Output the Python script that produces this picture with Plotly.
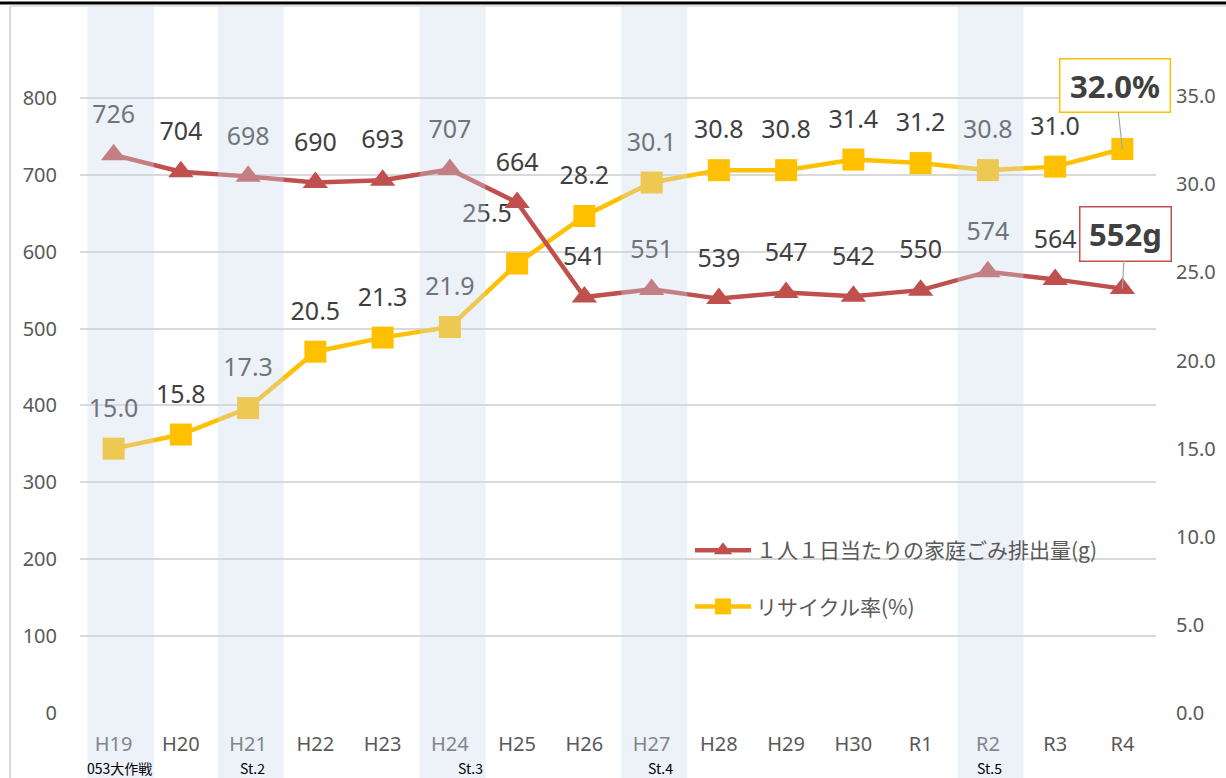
import plotly.graph_objects as go

# ---------------- data ----------------
years = ["H19", "H20", "H21", "H22", "H23", "H24", "H25", "H26",
         "H27", "H28", "H29", "H30", "R1", "R2", "R3", "R4"]
waste_g = [726, 704, 698, 690, 693, 707, 664, 541,
           551, 539, 547, 542, 550, 574, 564, 552]
recycle_pct = [15.0, 15.8, 17.3, 20.5, 21.3, 21.9, 25.5, 28.2,
               30.1, 30.8, 30.8, 31.4, 31.2, 30.8, 31.0, 32.0]
left_ticks = [0, 100, 200, 300, 400, 500, 600, 700, 800]
right_ticks = [0, 5, 10, 15, 20, 25, 30, 35]
band_years = ["H19", "H21", "H24", "H27", "R2"]
stage_labels = ["053大作戦", "St.2", "St.3", "St.4", "St.5"]
waste_name = "１人１日当たりの家庭ごみ排出量(g)"
recycle_name = "リサイクル率(%)"

# ---------------- layout constants ----------------
W, H = 1226, 778
ML, MR, MT, MB = 80, 70, 8, 65
PW, PH = W - ML - MR, H - MT - MB
L_MAX, R_MAX = 917, 40
RED, YEL = "#C0504D", "#FFC000"
TXT = "#404040"
AX = "#595959"
GRID = "#D9D9D9"

x = list(range(len(years)))
px_x = PW / len(years)
lab_dy = 38
g_off = lab_dy * L_MAX / PH

# label tweaks (pixels) for individual points
pct_dx = [0] * len(years)
pct_dy = [0] * len(years)
pct_dx[6], pct_dy[6] = -30, -10

fig = go.Figure()

# recycle rate (primary y, right side) drawn first so waste line is on top
fig.add_trace(go.Scatter(
    x=x, y=recycle_pct, name=recycle_name, yaxis="y",
    mode="lines+markers", line=dict(color=YEL, width=4.5),
    marker=dict(symbol="square", size=22, color=YEL),
    legendgroup="b", legendrank=2, cliponaxis=False))
fig.add_trace(go.Scatter(
    x=x, y=waste_g, name=waste_name, yaxis="y2",
    mode="lines+markers", line=dict(color=RED, width=4.5),
    marker=dict(symbol="triangle-up", size=22, color=RED),
    legendgroup="a", legendrank=1, cliponaxis=False))

# data labels as text traces (so the bands fade them)
fig.add_trace(go.Scatter(
    x=[x[i] + pct_dx[i] / px_x for i in range(len(x) - 1)],
    y=[recycle_pct[i] + (lab_dy - pct_dy[i]) * R_MAX / PH for i in range(len(x) - 1)],
    text=[f"{v:.1f}" for v in recycle_pct[:-1]], mode="text", yaxis="y",
    textfont=dict(family="Noto Sans", size=25, color=TXT),
    showlegend=False, hoverinfo="skip", cliponaxis=False))
fig.add_trace(go.Scatter(
    x=x[:-1], y=[v + g_off for v in waste_g[:-1]],
    text=[str(v) for v in waste_g[:-1]], mode="text", yaxis="y2",
    textfont=dict(family="Noto Sans", size=25, color=TXT),
    showlegend=False, hoverinfo="skip", cliponaxis=False))

# shaded bands (semi-transparent, above everything like the original)
shapes = []
for b in band_years:
    i = years.index(b)
    x0, x1 = (i - 0.39, i + 0.6) if i == 0 else (i - 0.45, i + 0.53)
    shapes.append(dict(type="rect", xref="x", yref="paper", x0=x0, x1=x1,
                       y0=-MB / PH, y1=1 + 1 / PH, line=dict(width=0),
                       fillcolor="rgba(204,215,235,0.35)", layer="above"))
# frame lines
shapes.append(dict(type="line", xref="paper", yref="paper",
                   x0=-ML / PW, x1=1 + MR / PW, y0=1 + (MT - 3) / PH, y1=1 + (MT - 3) / PH,
                   line=dict(color="black", width=3), layer="above"))
shapes.append(dict(type="line", xref="paper", yref="paper",
                   x0=(10 - ML) / PW, x1=1 + MR / PW, y0=1 + (MT - 6) / PH, y1=1 + (MT - 6) / PH,
                   line=dict(color=GRID, width=1.5), layer="above"))
shapes.append(dict(type="line", xref="paper", yref="paper",
                   x0=(10 - ML) / PW, x1=(10 - ML) / PW, y0=-MB / PH, y1=1 + (MT - 6) / PH,
                   line=dict(color=GRID, width=2), layer="above"))

annotations = [
    dict(x=x[-1], y=recycle_pct[-1], xref="x", yref="y",
         text=f"<b>{recycle_pct[-1]:.1f}%</b>", showarrow=True, arrowhead=0,
         arrowcolor="#A6A6A6", arrowwidth=1.2, ax=-7, ay=-64, standoff=0,
         font=dict(family="Noto Sans", size=31, color=TXT),
         bordercolor=YEL, borderwidth=1.5, borderpad=0, width=109, height=52,
         bgcolor="white"),
    dict(x=x[-1], y=waste_g[-1], xref="x", yref="y2",
         text=f"<b>{waste_g[-1]}g</b>", showarrow=True, arrowhead=0,
         arrowcolor="#A6A6A6", arrowwidth=1.2, ax=3, ay=-55, standoff=0,
         font=dict(family="Noto Sans", size=31, color=TXT),
         bordercolor=RED, borderwidth=1.5, borderpad=0, width=90, height=53,
         bgcolor="white"),
]
stage_x = [-0.425, 2.07, 5.30, 8.13, 13.03]
for lab, sx in zip(stage_labels, stage_x):
    annotations.append(dict(
        x=sx, y=(MT + PH - 768) / PH, xref="x", yref="paper",
        text=lab, showarrow=False, xanchor="left" if lab == stage_labels[0] else "center",
        yanchor="middle",
        font=dict(family="Noto Sans CJK JP", size=14, color="black")))

fig.update_layout(
    width=W, height=H, margin=dict(l=ML, r=MR, t=MT, b=MB),
    paper_bgcolor="white", plot_bgcolor="white", hovermode=False,
    font=dict(family="Noto Sans", color=AX),
    xaxis=dict(range=[-0.5, len(years) - 0.5], tickvals=x, ticktext=years,
               showgrid=False, zeroline=False, showline=False,
               ticks="outside", ticklen=13, tickcolor="rgba(0,0,0,0)",
               tickfont=dict(size=20, color=AX)),
    yaxis=dict(range=[0, R_MAX], side="right", tickvals=right_ticks,
               ticktext=[f"{v:.1f}" for v in right_ticks],
               showgrid=False, zeroline=False, showline=False,
               ticks="outside", ticklen=15, tickcolor="rgba(0,0,0,0)",
               tickfont=dict(size=20, color=AX)),
    yaxis2=dict(range=[0, L_MAX], side="left", overlaying="y", tickvals=left_ticks,
                showgrid=True, gridcolor=GRID, gridwidth=1.5, zeroline=False,
                showline=False, ticks="outside", ticklen=18,
                tickcolor="rgba(0,0,0,0)", tickfont=dict(size=20, color=AX)),
    legend=dict(x=(690 - ML) / PW, y=(PH + MT - 530) / PH, xanchor="left", yanchor="top",
                bgcolor="rgba(0,0,0,0)", itemwidth=56, tracegroupgap=26,
                traceorder="grouped",
                font=dict(family="Noto Sans CJK JP", size=21, color=AX)),
    shapes=shapes, annotations=annotations,
)

fig.write_html("out.html", config={"displayModeBar": False},
               post_script="document.body.style.margin='0';document.body.style.overflow='hidden';")
